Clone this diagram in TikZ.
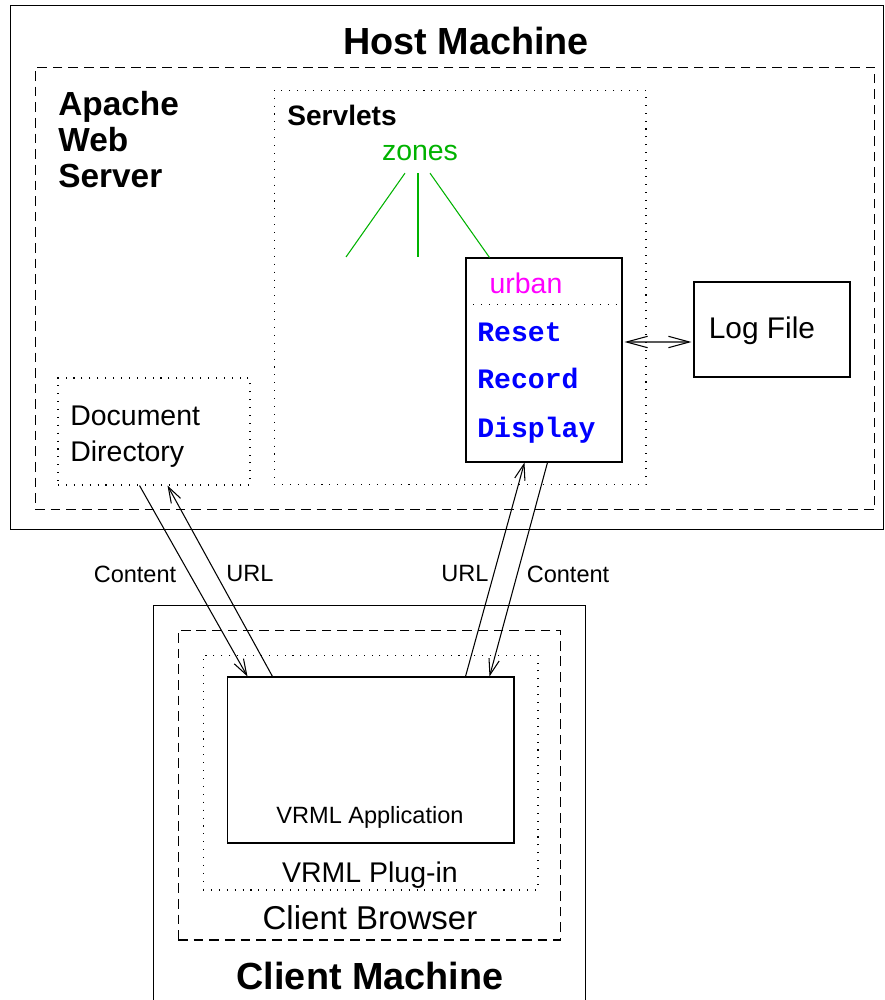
\documentclass[tikz,border=0pt]{standalone}
\usepackage{fontspec}
\setmainfont{Liberation Sans}
\setmonofont{Liberation Mono}
\usetikzlibrary{arrows.meta, calc}

\definecolor{zonegreen}{RGB}{0,178,0}
\definecolor{urbanpink}{RGB}{255,0,255}

\tikzset{
	box/.style={draw, line width=0.6pt, inner sep=0pt},
	dashbox/.style={box, dash pattern=on 5.5pt off 3.4pt},
	dotbox/.style={box, dash pattern=on 0.6pt off 3.9pt},
	link/.style={line width=0.6pt, -{Straight Barb[length=9pt,width=6pt]}},
	title/.style={font=\bfseries\fontsize{21.5}{24}\selectfont, inner sep=0pt},
	label/.style={font=\fontsize{16.2}{20.4}\selectfont, inner sep=0pt},
	small/.style={font=\fontsize{13.4}{16}\selectfont, inner sep=0pt},
	cmd/.style={font=\ttfamily\bfseries\fontsize{16}{16}\selectfont, text=blue, inner sep=0pt, anchor=base west},
}

\begin{document}
\begin{tikzpicture}[x=0.02cm, y=-0.02cm]
	\useasboundingbox (0,0) rectangle (885,1000);

	% host machine
	\node[box, minimum width=17.48cm, minimum height=10.5cm] (host) at (447,267.5) {};
	\node[title, anchor=base] (hosttitle) at (466,55) {Host Machine};
	\node[dashbox, minimum width=16.8cm, minimum height=8.86cm] (apache) at (455,288.5) {};
	\node[title, font=\bfseries\fontsize{19}{20.4}\selectfont, align=left, anchor=north west] (apachetext) at (58,91) {Apache\\Web\\Server};

	\node[dotbox, minimum width=7.44cm, minimum height=7.9cm] (servlets) at (460,287.5) {};
	\node[label, font=\bfseries\fontsize{16}{16}\selectfont, anchor=base west] (servlettext) at (287,126) {Servlets};
	\node[label, text=zonegreen] (zones) at (420,153) {zones};

	\node[box, minimum width=3.12cm, minimum height=4.08cm] (urban) at (544,360) {};
	\node[label, text=urbanpink, anchor=base] (urbantext) at (526,293) {urban};
	\draw[line width=0.6pt, dash pattern=on 0.6pt off 3.9pt] ($(urban.north west)+(0,47)$) -- ($(urban.north east)+(0,47)$);
	\node[cmd] (reset) at (477,341) {Reset};
	\node[cmd] (record) at (477,388) {Record};
	\node[cmd] (display) at (477,437) {Display};

	% zone branches
	\coordinate (zoneA) at (346,257);
	\coordinate (zoneB) at (418,257);
	\draw[zonegreen, line width=0.6pt] ($(zones.south)+(-15,12)$) -- (zoneA);
	\draw[zonegreen, line width=0.6pt] ($(zones.south)+(-2,12)$) -- (zoneB);
	\draw[zonegreen, line width=0.6pt] ($(zones.south)+(10,12)$) -- ($(urban.north west)+(24,0)$);

	\node[box, minimum width=3.12cm, minimum height=1.9cm] (logfile) at (772,329.5) {};
	\node[label, font=\fontsize{17}{17}\selectfont] (logtext) at (762,331) {Log File};
	\draw[line width=0.6pt, {Straight Barb[length=12pt,width=6.5pt]}-{Straight Barb[length=12pt,width=6.5pt]}] ($(urban.east)+(2,-18)$) -- ($(logfile.west)+(-2,12.5)$);

	\node[dotbox, minimum width=3.84cm, minimum height=2.14cm] (docdir) at (154,431.5) {};
	\node[label, align=left, anchor=north west] (doctext) at (70,406) {Document\\Directory};

	% client machine
	\node[box, minimum width=8.66cm, minimum height=8.3cm] (client) at (369.5,812.5) {};
	\node[title, anchor=base] (clienttitle) at (370,989) {Client Machine};
	\node[dashbox, minimum width=7.66cm, minimum height=6.2cm] (browser) at (369.5,785) {};
	\node[label, font=\fontsize{18.8}{18.8}\selectfont, anchor=base] (browsertext) at (370,929) {Client Browser};
	\node[dotbox, minimum width=6.7cm, minimum height=4.7cm] (plugin) at (370.5,772.5) {};
	\node[label, anchor=base] (plugintext) at (370,882) {VRML Plug-in};
	\node[box, minimum width=5.74cm, minimum height=3.32cm] (vrml) at (370.5,760) {};
	\node[small, anchor=base] (vrmltext) at (370,823) {VRML Application};

	% requests and replies
	\draw[link] ($(docdir.south west)+(82,0)$) -- ($(vrml.north west)+(21,0)$);
	\draw[link] ($(vrml.north west)+(46,0)$) -- ($(docdir.south west)+(110,0)$);
	\draw[link] ($(vrml.north west)+(239,0)$) -- ($(urban.south west)+(59,0)$);
	\draw[link] ($(urban.south west)+(82,0)$) -- ($(vrml.north west)+(263,0)$);

	\node[small] (content1) at (135,574) {Content};
	\node[small] (url1) at (250,574) {URL};
	\node[small] (url2) at (465,574) {URL};
	\node[small] (content2) at (568,574) {Content};
\end{tikzpicture}
\end{document}
